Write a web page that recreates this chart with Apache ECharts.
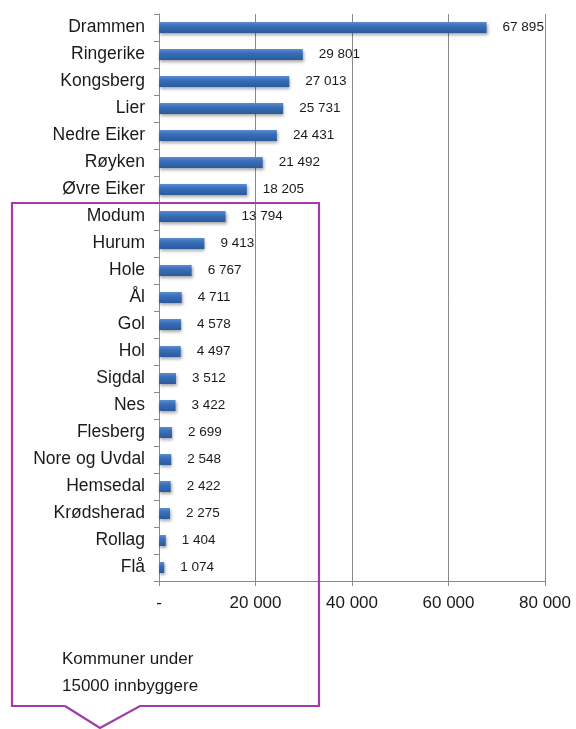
<!DOCTYPE html>
<html>
<head>
<meta charset="utf-8">
<script src="https://cdn.jsdelivr.net/npm/echarts@6/dist/echarts.min.js"></script>
<style>
html,body{margin:0;padding:0;background:#fff;}
#chart{width:576px;height:729px;}
</style>
</head>
<body>
<div id="chart"></div>
<script>
const categories = ['Drammen','Ringerike','Kongsberg','Lier','Nedre Eiker','Røyken','Øvre Eiker','Modum','Hurum','Hole','Ål','Gol','Hol','Sigdal','Nes','Flesberg','Nore og Uvdal','Hemsedal','Krødsherad','Rollag','Flå'];
const values = [67895,29801,27013,25731,24431,21492,18205,13794,9413,6767,4711,4578,4497,3512,3422,2699,2548,2422,2275,1404,1074];
const xTickLabels = ['-','20 000','40 000','60 000','80 000'];
const calloutLines = ['Kommuner under','15000 innbyggere'];

function fmt(v){ return String(v).replace(/\B(?=(\d{3})+(?!\d))/g,' '); }

const chart = echarts.init(document.getElementById('chart'), null, {renderer:'canvas'});
const gridColor = '#8a8a8a';
chart.setOption({
  backgroundColor:'#ffffff',
  animation:false,
  grid:{left:159,right:31,top:14,bottom:148,containLabel:false},
  xAxis:{
    type:'value',min:0,max:80000,interval:20000,
    axisLine:{show:true,lineStyle:{color:gridColor,width:1}},
    axisTick:{show:true,length:5,lineStyle:{color:gridColor}},
    splitLine:{show:true,lineStyle:{color:gridColor,width:1}},
    axisLabel:{margin:14,fontFamily:'Liberation Sans, Arial, sans-serif',fontSize:17,color:'#1a1a1a',
      formatter:function(v){ return xTickLabels[Math.round(v/20000)]; }}
  },
  yAxis:{
    type:'category',data:categories,inverse:true,
    axisLine:{show:true,lineStyle:{color:gridColor,width:1}},
    axisTick:{show:true,length:5,lineStyle:{color:gridColor}},
    axisLabel:{margin:14,fontFamily:'Liberation Sans, Arial, sans-serif',fontSize:17.5,color:'#1a1a1a'}
  },
  series:[{
    type:'bar',data:values,barWidth:11,
    itemStyle:{
      color:new echarts.graphic.LinearGradient(0,0,0,1,[
        {offset:0,color:'#5a8ed0'},{offset:0.35,color:'#3a6fba'},{offset:1,color:'#2a5a9c'}]),
      shadowColor:'rgba(0,0,0,0.35)',shadowBlur:3,shadowOffsetX:1,shadowOffsetY:2
    },
    label:{show:true,position:'right',distance:16,fontFamily:'Liberation Sans, Arial, sans-serif',fontSize:13.5,color:'#1a1a1a',
      formatter:function(p){ return fmt(p.value); }}
  }],
  graphic:[
    {type:'polyline',z:100,silent:true,
      shape:{points:[[65,706],[12,706],[12,203],[319,203],[319,706],[140,706],[100,728],[65,706]]},
      style:{stroke:'#a23aa8',lineWidth:2.2,fill:null}},
    {type:'text',z:100,left:62,top:646,silent:true,
      style:{text:calloutLines.join('\n'),fontFamily:'Liberation Sans, Arial, sans-serif',fontSize:17,lineHeight:27,fill:'#1a1a1a'}}
  ]
});
</script>
</body>
</html>
